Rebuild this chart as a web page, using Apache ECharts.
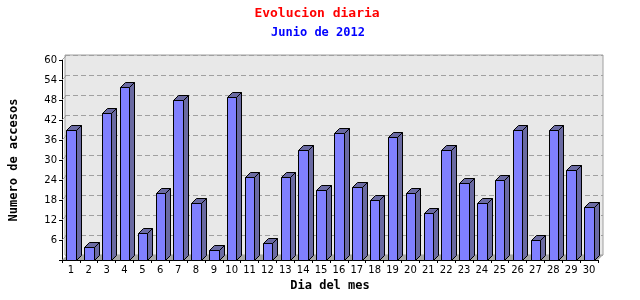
<!DOCTYPE html>
<html><head><meta charset="utf-8">
<script src="https://cdn.jsdelivr.net/npm/echarts@6/dist/echarts.min.js"></script>
<style>html,body{margin:0;padding:0;background:#fff}#c{width:640px;height:300px}</style>
</head><body><div id="c"></div>
<script>
const days = ['1','2','3','4','5','6','7','8','9','10','11','12','13','14','15','16','17','18','19','20','21','22','23','24','25','26','27','28','29','30'];
const accesos = [39,4,44,52,8,20,48,17,3,49,25,5,25,33,21,38,22,18,37,20,14,33,23,17,24,39,6,39,27,16];
const yTicks = [0,6,12,18,24,30,36,42,48,54,60];

const D = 5; // 3D depth in px
const chart = echarts.init(document.getElementById('c'), null, {renderer:'canvas'});
const mono = 'DejaVu Sans Mono';

chart.setOption({
  animation:false,
  backgroundColor:'#ffffff',
  title:[
    {text:'Evolucion diaria', left:312, top:2, textAlign:'center',
     textStyle:{color:'#ff0000', fontFamily:mono, fontWeight:'bold', fontSize:13}},
    {text:'Junio de 2012', left:313, top:22, textAlign:'center',
     textStyle:{color:'#0000ff', fontFamily:mono, fontWeight:'bold', fontSize:12}}
  ],
  grid:[
    {left:60+D, right:42-D, top:60-D, bottom:40+D, show:true, backgroundColor:'#e8e8e8', borderColor:'#a0a0a0', borderWidth:1},
    {left:60, right:42, top:60, bottom:40}
  ],
  xAxis:[
    {type:'category', gridIndex:0, data:days, show:false},
    {type:'category', gridIndex:1, data:days,
     axisLine:{lineStyle:{color:'#000'}},
     axisTick:{show:true, alignWithLabel:false, length:3, lineStyle:{color:'#000'}},
     axisLabel:{color:'#000', fontFamily:'DejaVu Sans', fontSize:10, margin:5, interval:0},
     name:'Dia del mes', nameLocation:'middle', nameGap:17,
     nameTextStyle:{color:'#000', fontFamily:mono, fontWeight:'bold', fontSize:12}}
  ],
  yAxis:[
    {type:'value', gridIndex:0, min:0, max:60, interval:6,
     axisLine:{show:false}, axisTick:{show:false}, axisLabel:{show:false},
     splitLine:{show:true, lineStyle:{color:'#a0a0a0', type:[5,3], width:1}}},
    {type:'value', gridIndex:1, min:0, max:60, interval:6,
     axisLine:{show:true, lineStyle:{color:'#000'}},
     axisTick:{show:true, length:3, lineStyle:{color:'#000'}},
     axisLabel:{color:'#000', fontFamily:'DejaVu Sans', fontSize:10, margin:5,
       formatter:v=> v===0 ? '' : String(v)},
     splitLine:{show:false},
     name:'Numero de accesos', nameLocation:'middle', nameGap:42, nameRotate:90,
     nameTextStyle:{color:'#000', fontFamily:mono, fontWeight:'bold', fontSize:12}}
  ],
  series:[
    { // floor and left wall decoration
      type:'custom', xAxisIndex:1, yAxisIndex:1, silent:true, z:1,
      data:[[0,0]],
      renderItem:function(params, api){
        const band = api.size([1,0])[0];
        const p0 = api.coord([0,0]);
        const p1 = api.coord([days.length-1,0]);
        const l = p0[0]-band/2, r = p1[0]+band/2, b = p0[1];
        const children = [{type:'polygon', shape:{points:[[l,b],[l+D,b-D],[r+D,b-D],[r,b]]},
          style:{fill:'#a8a8a8'}}];
        yTicks.forEach(t=>{
          if(t===0) return;
          const q = api.coord([0,t]);
          children.push({type:'line', shape:{x1:l, y1:q[1], x2:l+D, y2:q[1]-D},
            style:{stroke:'#a0a0a0', lineWidth:1}});
        });
        return {type:'group', children};
      }
    },
    {
      type:'custom', xAxisIndex:1, yAxisIndex:1, z:3,
      data: accesos.map((v,i)=>[i,v]),
      encode:{x:0, y:1},
      renderItem:function(params, api){
        const i = api.value(0), v = api.value(1);
        const top = api.coord([i, v]);
        const base = api.coord([i, 0]);
        const band = api.size([1,0])[0];
        const w = band*0.53;
        const l = Math.round(top[0]-w/2)+0.5, r = Math.round(top[0]+w/2)+0.5;
        const t = Math.round(top[1])+0.5, b = Math.round(base[1])+0.5;
        const st = {stroke:'#000', lineWidth:1};
        return {type:'group', children:[
          {type:'polygon', shape:{points:[[r,t],[r+D,t-D],[r+D,b-D],[r,b]]},
           style:Object.assign({fill:'#6a6aa2'}, st)},
          {type:'polygon', shape:{points:[[l,t],[l+D,t-D],[r+D,t-D],[r,t]]},
           style:Object.assign({fill:'#6a6aa2'}, st)},
          {type:'rect', shape:{x:l, y:t, width:r-l, height:b-t},
           style:Object.assign({fill:'#8080ff'}, st)}
        ]};
      }
    }
  ]
});
</script></body></html>
